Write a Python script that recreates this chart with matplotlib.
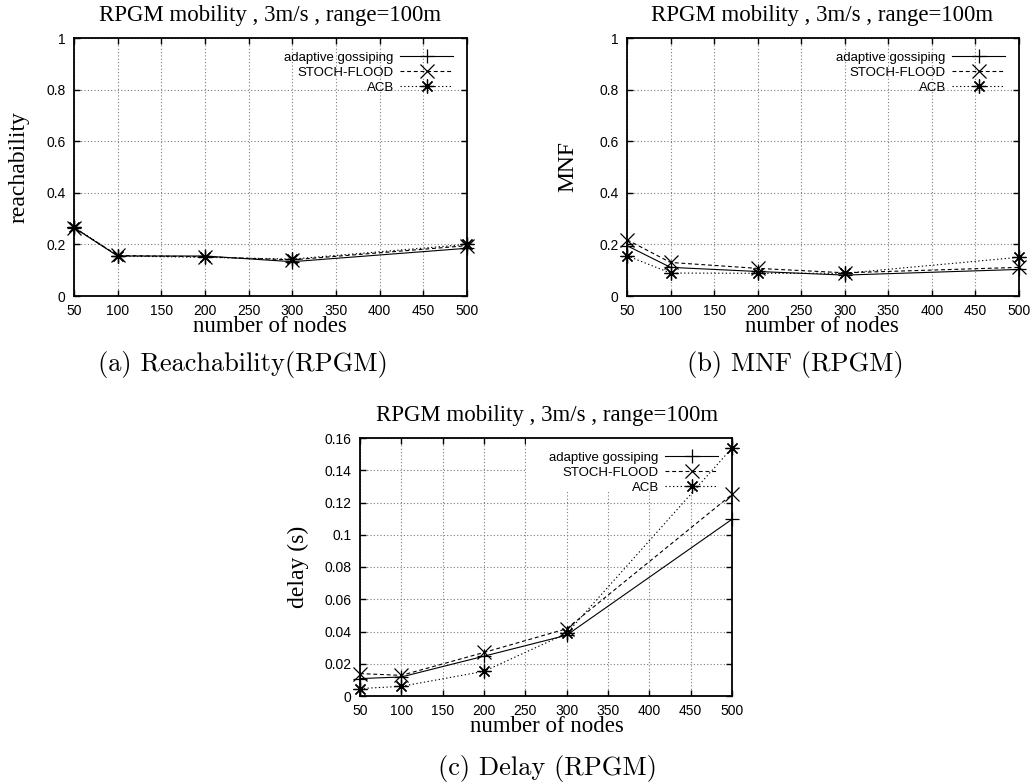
import matplotlib
matplotlib.use("Agg")
import matplotlib.pyplot as plt
from matplotlib.ticker import FuncFormatter, MultipleLocator
from matplotlib.patches import Rectangle

# ---- data -------------------------------------------------------------
nodes = [50, 100, 200, 300, 500]
series_names = ["adaptive gossiping", "STOCH-FLOOD", "ACB"]

reach_adaptive = [0.265, 0.155, 0.155, 0.133, 0.185]
reach_stoch = [0.265, 0.157, 0.152, 0.140, 0.195]
reach_acb = [0.268, 0.155, 0.150, 0.143, 0.200]

mnf_adaptive = [0.195, 0.111, 0.095, 0.081, 0.103]
mnf_stoch = [0.218, 0.130, 0.107, 0.090, 0.111]
mnf_acb = [0.156, 0.089, 0.088, 0.088, 0.150]

delay_adaptive = [0.0108, 0.0118, 0.0247, 0.0377, 0.1096]
delay_stoch = [0.0139, 0.0128, 0.0270, 0.0417, 0.1250]
delay_acb = [0.0046, 0.0060, 0.0153, 0.0388, 0.1538]

title_text = "RPGM mobility , 3m/s , range=100m"
xlabel_text = "number of nodes"
captions = ["(a) Reachability(RPGM)", "(b) MNF (RPGM)", "(c) Delay (RPGM)"]
ylabels = ["reachability", "MNF", "delay (s)"]

# ---- figure -----------------------------------------------------------
W, H = 1033, 784
fig = plt.figure(figsize=(W / 100, H / 100), dpi=100)


def fx(px):
    return px / W


def fy(py):
    return 1 - py / H


def make_axes(left, top, right, bottom):
    return fig.add_axes([fx(left), fy(bottom), fx(right - left), (bottom - top) / H])


styles = [
    dict(ls="-", marker="+"),
    dict(ls=(0, (3.5, 2.5)), marker="x"),
    dict(ls=(0, (1.2, 2.2)), marker=(8, 2, 0)),
]

SANS = "Liberation Sans"
SERIF = "Liberation Serif"


def fmt(v, _pos):
    return "%g" % round(v, 6)


def draw(ax, ys, ymax, ystep):
    ax.set_axisbelow(True)
    for y, st, name in zip(ys, styles, series_names):
        ax.plot(nodes, y, color="black", lw=0.8, ms=10, mew=0.9,
                label=name, clip_on=False, zorder=3, **st)
    ax.set_xlim(50, 500)
    ax.set_ylim(0, ymax)
    ax.xaxis.set_major_locator(MultipleLocator(50))
    ax.yaxis.set_major_locator(MultipleLocator(ystep))
    ax.yaxis.set_major_formatter(FuncFormatter(fmt))
    ax.grid(True, color="#7a7a7a", lw=0.8, ls=(0, (1, 2)))
    ax.tick_params(direction="in", length=4.5, width=1.0, top=True, right=True,
                   labelsize=10, pad=6, color="black")
    for lab in ax.get_xticklabels() + ax.get_yticklabels():
        lab.set_fontfamily(SANS)
    for sp in ax.spines.values():
        sp.set_linewidth(1.3)
    leg = ax.legend(loc="upper right", markerfirst=False, frameon=False,
                    prop=dict(family=SANS, size=9.5), handlelength=4.0,
                    handletextpad=0.5, labelspacing=0.2,
                    borderaxespad=0.75, borderpad=0.3)
    return leg


# panel (a)
ax_a = make_axes(74, 38, 467, 296)
draw(ax_a, [reach_adaptive, reach_stoch, reach_acb], 1.0, 0.2)

# panel (b)
ax_b = make_axes(627, 38, 1019, 296)
draw(ax_b, [mnf_adaptive, mnf_stoch, mnf_acb], 1.0, 0.2)

# panel (c)
ax_c = make_axes(360, 438, 732, 696)
draw(ax_c, [delay_adaptive, delay_stoch, delay_acb], 0.16, 0.02)
# opaque key area hides the grid behind the legend
ax_c.add_patch(Rectangle((0.447, 0.80), 0.553, 0.20, transform=ax_c.transAxes,
                         facecolor="white", edgecolor="none", zorder=1))

# titles, axis labels and captions
title_fs = 16.5
label_fs = 16.5
ylabel_fs = 17
cap_fs = 19
for ax, cx, ty, ly, ylx, ylab in [
    (ax_a, 270, 15, 327, 19, ylabels[0]),
    (ax_b, 822, 15, 327, 568, ylabels[1]),
    (ax_c, 547, 416, 727, 298, ylabels[2]),
]:
    bb = ax.get_position()
    ymid = bb.y0 + bb.height / 2
    fig.text(fx(cx), fy(ty), title_text, family=SERIF, fontsize=title_fs,
             ha="center", va="center")
    fig.text(fx(cx), fy(ly), xlabel_text, family=SERIF, fontsize=label_fs,
             ha="center", va="center")
    fig.text(fx(ylx), ymid, ylab, family=SERIF, fontsize=ylabel_fs,
             ha="center", va="center", rotation=90)

for cap, cx, cy in zip(captions, [243, 795, 547], [364, 364, 768]):
    fig.text(fx(cx), fy(cy), cap, family="cmr10", fontsize=cap_fs,
             ha="center", va="center")

fig.savefig("out.png", dpi=100, facecolor="white")
